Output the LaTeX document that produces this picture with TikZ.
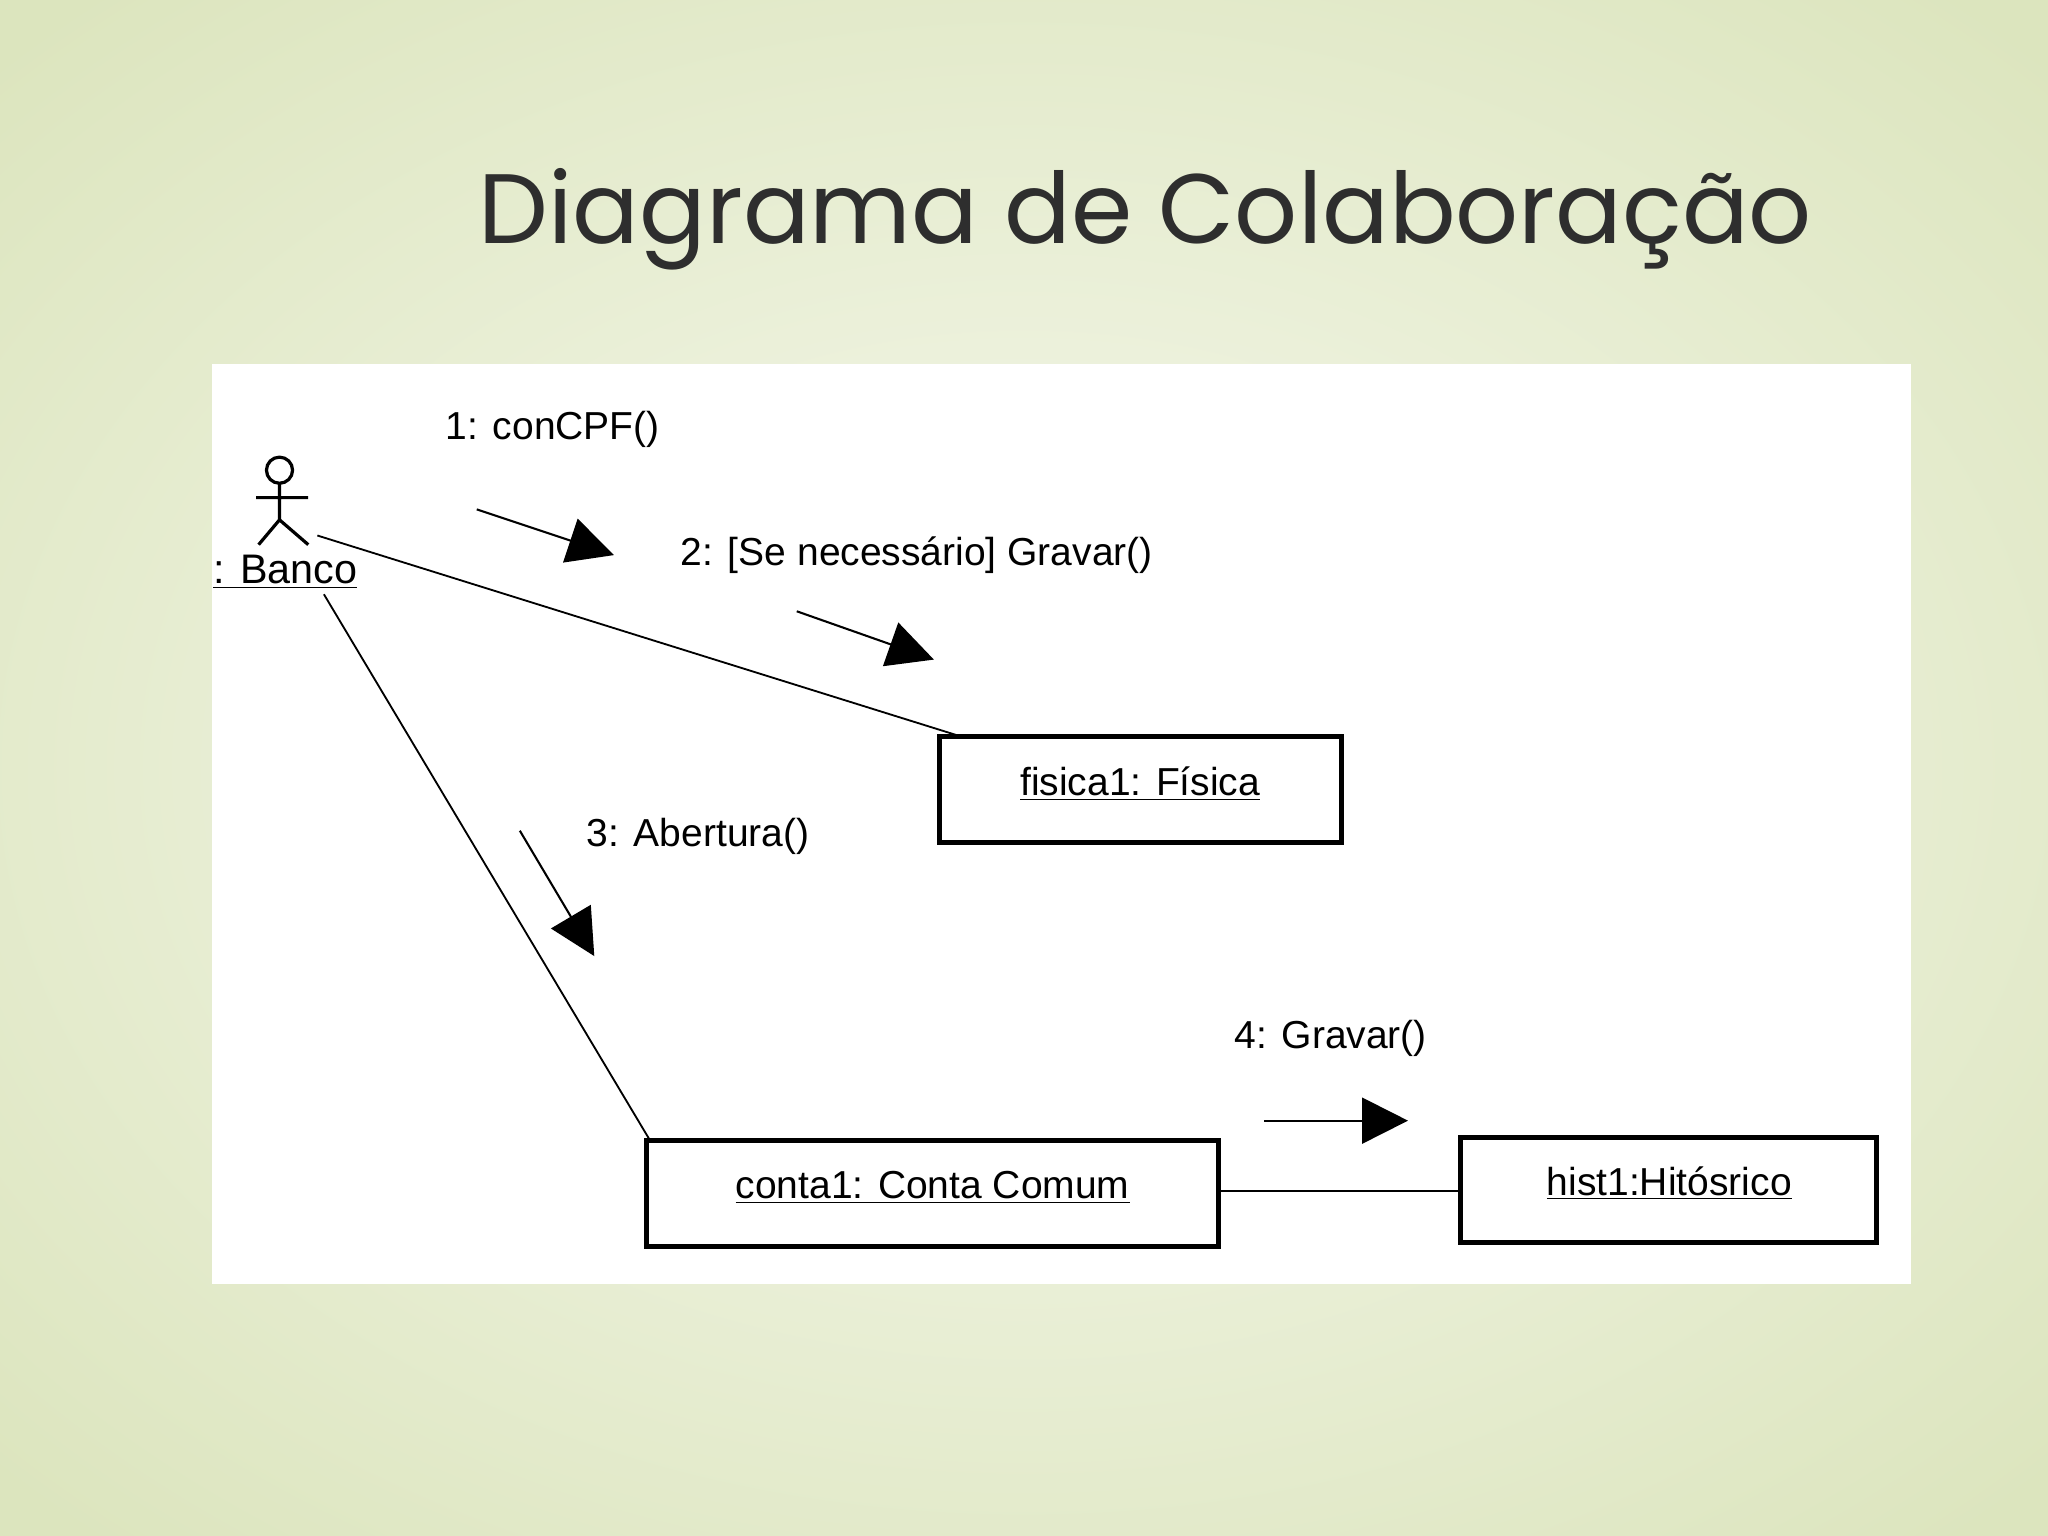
\documentclass[tikz,border=0pt]{standalone}
\usepackage{fontspec}
\setmainfont{Liberation Sans}
\newfontfamily\titlefont{Poppins}
\usetikzlibrary{arrows.meta}
\definecolor{bgedge}{HTML}{DCE5BE}
\definecolor{bgmid}{HTML}{F7F9EF}
\begin{document}
\begin{tikzpicture}[x=0.02cm,y=-0.02cm,
  obj/.style={draw,line width=2.2pt},
  lab/.style={font=\fontsize{17}{18}\selectfont,anchor=west,inner sep=0pt},
  otxt/.style={font=\fontsize{17}{18}\selectfont},
  conn/.style={line width=0.8pt},
  msg/.style={line width=0.9pt,-{Triangle[length=20pt,width=20pt]}}]
\useasboundingbox (0,0) rectangle (1568,1176);
\shade[inner color=bgmid,outer color=bgedge] (-300,-200) rectangle (1868,1376);
\fill[white] (162,279) rectangle (1463,983);
\node[font=\titlefont\fontsize{43}{50}\selectfont,text=black!82] (title) at (877,168) {Diagrama de Colaboração};
% actor
\draw[line width=1.4pt] (214,360) circle (10);
\draw[line width=1.4pt] (214,370) -- (214,398) (196,381) -- (236,381) (198,417) -- (214,398) -- (236,417);
\coordinate (act1) at (243,410);
\coordinate (act2) at (248,455);
\node[lab,font=\fontsize{18}{18}\selectfont] (banco) at (163,438) {\underline{: Banco}};
\draw[obj] (719,564) rectangle (1027,645);
\node[otxt] (fisica) at (873,600) {\underline{fisica1: Física}};
\draw[obj] (495,873) rectangle (933,954);
\node[otxt] (conta) at (714,909) {\underline{conta1: Conta Comum}};
\draw[obj] (1118,871) rectangle (1437,951);
\node[otxt] (hist) at (1278,906) {\underline{hist1:Hitósrico}};
\coordinate (fisTL) at (733,563);
\coordinate (contaTL) at (497,872);
\coordinate (contaR) at (933,912);
\coordinate (histL) at (1118,912);
\draw[conn] (act1) -- (fisTL);
\draw[conn] (act2) -- (contaTL);
\draw[conn] (contaR) -- (histL);
% messages
\node[lab] (m1) at (341,329) {1: conCPF()};
\node[lab] (m2) at (521,425) {2: [Se necessário] Gravar()};
\node[lab] (m3) at (449,640) {3: Abertura()};
\node[lab] (m4) at (945,795) {4: Gravar()};
\coordinate (a1s) at (365,390); \coordinate (a1e) at (470,425);
\coordinate (a2s) at (610,468); \coordinate (a2e) at (715,505);
\coordinate (a3s) at (398,636); \coordinate (a3e) at (455,732);
\coordinate (a4s) at (968,858); \coordinate (a4e) at (1078,858);
\draw[msg] (a1s) -- (a1e);
\draw[msg] (a2s) -- (a2e);
\draw[msg] (a3s) -- (a3e);
\draw[msg] (a4s) -- (a4e);
\end{tikzpicture}
\end{document}
